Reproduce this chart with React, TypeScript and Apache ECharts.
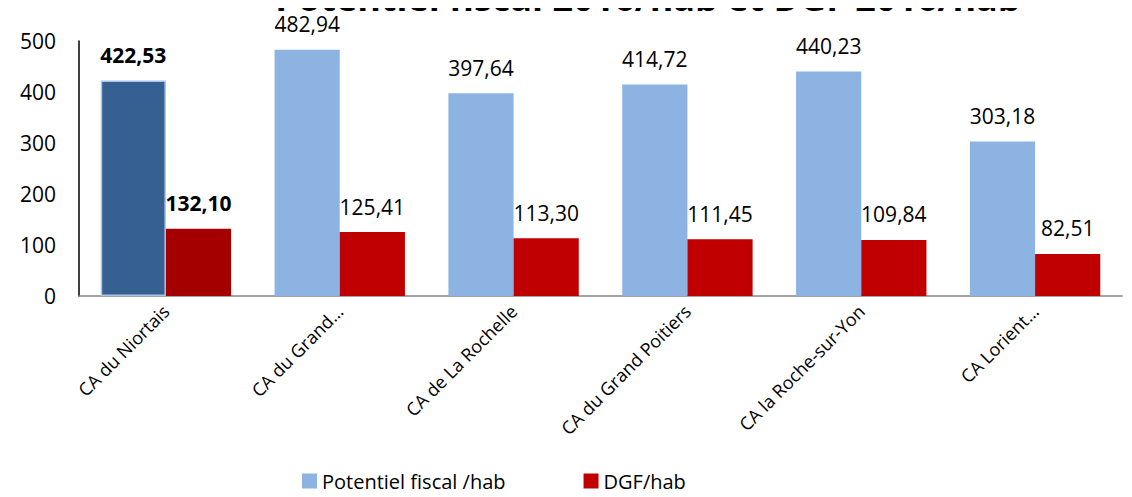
import React, { useEffect, useRef } from "react";
import * as echarts from "echarts";

const categories = [
  "CA du Niortais",
  "CA du Grand…",
  "CA de La Rochelle",
  "CA du Grand Poitiers",
  "CA la Roche-sur-Yon",
  "CA Lorient…",
];
const potentielFiscal = [422.53, 482.94, 397.64, 414.72, 440.23, 303.18];
const dgf = [132.1, 125.41, 113.3, 111.45, 109.84, 82.51];
const seriesNames = ["Potentiel fiscal /hab", "DGF/hab"];
const titleText = "Potentiel fiscal 2016/hab et DGF 2016/hab";

const FONT = "'Open Sans', sans-serif";
const fmt = (v: number) => v.toFixed(2).replace(".", ",");

export default function App() {
  const ref = useRef<HTMLDivElement>(null);
  useEffect(() => {
    const chart = echarts.init(ref.current!, null, { renderer: "svg" });
    const mk = (vals: number[], firstColor: string, border: string | null) =>
      vals.map((v, i) =>
        i === 0
          ? {
              value: v,
              itemStyle: {
                color: firstColor,
                borderColor: border || firstColor,
                borderWidth: border ? 1.5 : 0,
              },
              label: { fontWeight: "bold" },
            }
          : { value: v }
      );
    const labelOpt = {
      show: true,
      position: "top",
      distance: 15,
      formatter: (p: any) => fmt(p.value),
      fontFamily: FONT,
      fontSize: 21,
      color: "#000",
    };
    chart.setOption({
      animation: false,
      graphic: [
        {
          type: "text",
          x: 648,
          y: 15,
          style: {
            text: titleText,
            textAlign: "center",
            textVerticalAlign: "bottom",
            fontFamily: FONT,
            fontSize: 36,
            fontWeight: "bold",
            fill: "#000",
          },
        },
      ],
      grid: { left: 79, right: 10, top: 41, bottom: 201, containLabel: false },
      legend: {
        bottom: 1,
        left: 297,
        itemWidth: 15,
        itemHeight: 15,
        itemGap: 78,
        icon: "rect",
        textStyle: { fontFamily: FONT, fontSize: 20, color: "#000" },
        data: seriesNames,
      },
      xAxis: {
        type: "category",
        data: categories,
        axisLine: { lineStyle: { color: "#868686", width: 1.5 } },
        axisTick: { show: false },
        axisLabel: {
          rotate: 45,
          interval: 0,
          margin: 12,
          fontFamily: FONT,
          fontSize: 18,
          color: "#000",
        },
      },
      yAxis: {
        type: "value",
        min: 0,
        max: 500,
        interval: 100,
        splitLine: { show: false },
        axisLine: { show: true, lineStyle: { color: "#000", width: 1.5 } },
        axisTick: { show: false },
        axisLabel: { fontFamily: FONT, fontSize: 21, color: "#000", margin: 23 },
      },
      series: [
        {
          name: seriesNames[0],
          type: "bar",
          data: mk(potentielFiscal, "#376092", "#A9C6EA"),
          itemStyle: { color: "#8DB3E2" },
          barGap: "0%",
          barCategoryGap: "25%",
          label: labelOpt,
        },
        {
          name: seriesNames[1],
          type: "bar",
          data: mk(dgf, "#A50000", null),
          itemStyle: { color: "#C00000" },
          barGap: "0%",
          barCategoryGap: "25%",
          label: labelOpt,
        },
      ],
    });
    return () => chart.dispose();
  }, []);
  return <div ref={ref} style={{ width: 1132, height: 497, margin: -8 }} />;
}
